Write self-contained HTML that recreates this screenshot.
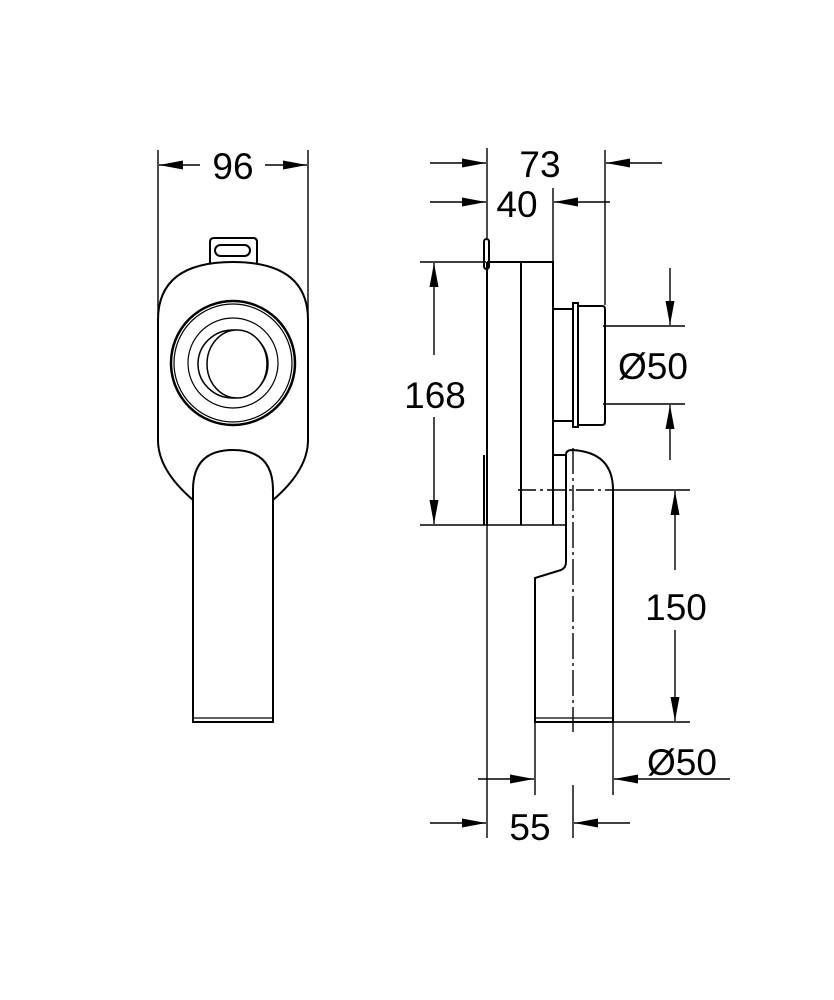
<!DOCTYPE html>
<html><head><style>html,body{margin:0;padding:0;background:#fff}svg{display:block}</style></head>
<body>
<svg width="834" height="1000" viewBox="0 0 834 1000" xmlns="http://www.w3.org/2000/svg">
<defs>
<marker id="a" viewBox="0 0 10 10" refX="10" refY="5" markerWidth="24" markerHeight="9" markerUnits="userSpaceOnUse" orient="auto" preserveAspectRatio="none"><path d="M0,0L10,5L0,10z" fill="#000"/></marker>
</defs>
<g fill="none" stroke="#000" stroke-width="1.4">
<line x1="158" y1="150" x2="158" y2="315"/>
<line x1="308" y1="150" x2="308" y2="315"/>
<line x1="200" y1="165" x2="159" y2="165" marker-end="url(#a)"/>
<line x1="265" y1="165" x2="307" y2="165" marker-end="url(#a)"/>
</g>
<g fill="#fff" stroke="#000" stroke-width="2">
<path d="M210,265 L210,242 Q210,238 214,238 L253,238 Q257,238 257,242 L257,265"/>
<rect x="215" y="245" width="35" height="11" rx="5.5"/>
<path d="M158,440 L158,320 Q158,262 233,262 Q308,262 308,320 L308,440 Q308,470 273,500 L193,500 Q158,470 158,440 Z"/>
<circle cx="233" cy="363" r="62" stroke-width="2.5"/>
<circle cx="233" cy="363" r="59" stroke-width="1.2"/>
<circle cx="233" cy="363" r="45" stroke-width="1.2"/>
<ellipse cx="233" cy="364" rx="35" ry="34" stroke-width="1.5"/>
<ellipse cx="237" cy="364" rx="30" ry="34" stroke-width="1.5"/>
<path d="M193,722 L193,490 Q193,450 233,450 Q273,450 273,490 L273,722 Z"/>
<line x1="193" y1="718" x2="273" y2="718" stroke-width="1.2"/>
</g>
<g fill="none" stroke="#000" stroke-width="1.4">
<line x1="487" y1="148" x2="487" y2="238"/>
<line x1="487" y1="525" x2="487" y2="838"/>
<line x1="553" y1="188" x2="553" y2="262"/>
<line x1="605" y1="150" x2="605" y2="305"/>
<line x1="430" y1="163" x2="486" y2="163" marker-end="url(#a)"/>
<line x1="662" y1="163" x2="606" y2="163" marker-end="url(#a)"/>
<line x1="430" y1="202" x2="486" y2="202" marker-end="url(#a)"/>
<line x1="610" y1="202" x2="554" y2="202" marker-end="url(#a)"/>
<line x1="420" y1="262" x2="486" y2="262"/>
<line x1="420" y1="525" x2="566" y2="525"/>
<line x1="434" y1="355" x2="434" y2="263" marker-end="url(#a)"/>
<line x1="434" y1="417" x2="434" y2="524" marker-end="url(#a)"/>
<line x1="603" y1="326" x2="685" y2="326"/>
<line x1="603" y1="404" x2="685" y2="404"/>
<line x1="670" y1="268" x2="670" y2="325" marker-end="url(#a)"/>
<line x1="670" y1="460" x2="670" y2="405" marker-end="url(#a)"/>
<line x1="613" y1="490" x2="690" y2="490"/>
<line x1="613" y1="722" x2="690" y2="722"/>
<line x1="675" y1="570" x2="675" y2="491" marker-end="url(#a)"/>
<line x1="675" y1="630" x2="675" y2="721" marker-end="url(#a)"/>
<line x1="535" y1="722" x2="535" y2="795"/>
<line x1="613" y1="722" x2="613" y2="795"/>
<line x1="478" y1="779" x2="534" y2="779" marker-end="url(#a)"/>
<line x1="730" y1="779" x2="614" y2="779" marker-end="url(#a)"/>
<line x1="573" y1="785" x2="573" y2="838"/>
<line x1="430" y1="823" x2="486" y2="823" marker-end="url(#a)"/>
<line x1="630" y1="823" x2="574" y2="823" marker-end="url(#a)"/>
<line x1="518" y1="490" x2="613" y2="490" stroke-dasharray="18,4,3,4"/>
<line x1="573" y1="448" x2="573" y2="732" stroke-dasharray="26,4,3,4"/>
</g>
<g fill="none" stroke="#000" stroke-width="2">
<rect x="484" y="239" width="5" height="30" rx="2.5"/>
<path d="M487,262 L553,262 L553,525"/>
<line x1="487" y1="262" x2="487" y2="525"/>
<line x1="521" y1="262" x2="521" y2="525"/>
<path d="M484,455 L484,525"/>
<path d="M553,309 L573,309 M553,421 L573,421"/>
<rect x="573" y="303" width="5" height="124"/>
<path d="M578,306 L602,306 Q605,306 605,309 L605,422 Q605,425 602,425 L578,425"/>
<path d="M553,455 L566,455"/>
<path d="M566,455 Q566,450 572,450 Q613,452 613,490 L613,722 L535,722 L535,578 L561,570 Q566,568 566,562 Z"/>
<line x1="535" y1="718" x2="613" y2="718" stroke-width="1.2"/>
</g>
<g font-family="Liberation Sans, sans-serif" font-size="37" fill="#000" text-anchor="middle">
<text x="233" y="179">96</text>
<text x="540" y="177">73</text>
<text x="517" y="217">40</text>
<text x="435" y="408">168</text>
<text x="653" y="379">Ø50</text>
<text x="676" y="620">150</text>
<text x="682" y="775">Ø50</text>
<text x="530" y="840">55</text>
</g>
</svg>
</body></html>
